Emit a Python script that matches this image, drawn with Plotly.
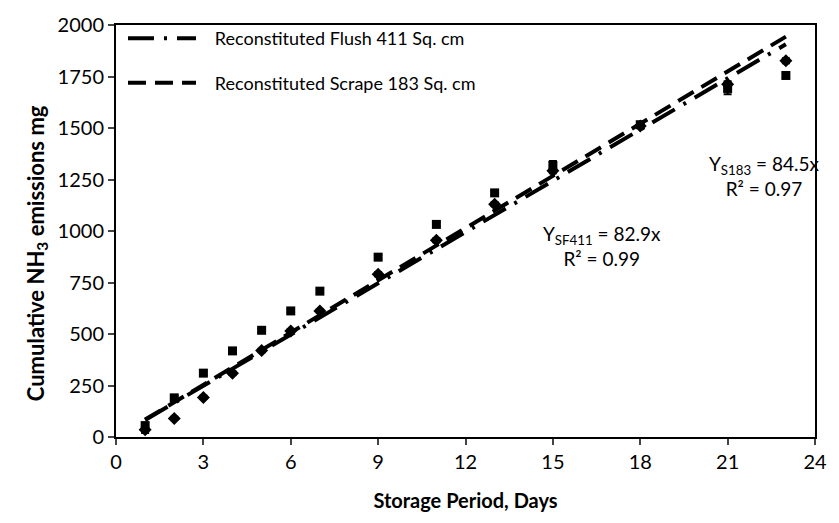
import plotly.graph_objects as go

# ---- data ----
days = [1, 2, 3, 4, 5, 6, 7, 9, 11, 13, 15, 18, 21, 23]
scrape_vals = [55, 190, 310, 418, 518, 612, 708, 873, 1032, 1185, 1318, 1516, 1692, 1755]
scrape_err = [15, 10, 10, 10, 8, 8, 8, 10, 10, 10, 22, 10, 28, 12]
flush_vals = [35, 90, 192, 310, 420, 515, 612, 790, 955, 1130, 1292, 1510, 1712, 1826]
flush_err = [15, 8, 8, 8, 8, 8, 8, 10, 10, 10, 12, 10, 15, 12]

trend_x = [1, 23]
slope_flush = 82.9
slope_scrape = 84.5

series_names = ["Reconstituted Flush 411 Sq. cm", "Reconstituted Scrape 183 Sq. cm"]

x_ticks = [0, 3, 6, 9, 12, 15, 18, 21, 24]
y_ticks = [0, 250, 500, 750, 1000, 1250, 1500, 1750, 2000]

FONT = "Lato, 'Open Sans', sans-serif"
PAD = "\u00a0\u00a0\u00a0"

fig = go.Figure()

# markers (not in legend)
fig.add_trace(go.Scatter(
    x=days, y=scrape_vals, mode="markers",
    marker=dict(symbol="square", size=9, color="black"),
    error_y=dict(type="data", array=scrape_err, color="black", thickness=2, width=4),
    showlegend=False, hoverinfo="skip"))
fig.add_trace(go.Scatter(
    x=days, y=flush_vals, mode="markers",
    marker=dict(symbol="diamond", size=10, color="black"),
    error_y=dict(type="data", array=flush_err, color="black", thickness=2, width=4),
    showlegend=False, hoverinfo="skip"))

# trendlines
fig.add_trace(go.Scatter(
    x=trend_x, y=[slope_flush * v for v in trend_x], mode="lines",
    line=dict(color="black", width=4, dash="26px,10px,3px,10px"),
    name=PAD + series_names[0], legendgroup="a"))
fig.add_trace(go.Scatter(
    x=trend_x, y=[slope_scrape * v for v in trend_x], mode="lines",
    line=dict(color="black", width=4, dash="18px,9px"),
    name=PAD + series_names[1], legendgroup="b"))

fig.add_annotation(x=16.7, y=928, xref="x", yref="y",
                   text="Y<sub>SF411</sub> = 82.9x<br>R² = 0.99",
                   showarrow=False, align="center",
                   font=dict(family=FONT, size=19, color="black"))
fig.add_annotation(x=22.27, y=1267, xref="x", yref="y",
                   text="Y<sub>S183</sub> = 84.5x<br>R² = 0.97",
                   showarrow=False, align="center",
                   font=dict(family=FONT, size=19, color="black"))

# y-axis title (placed as annotation to match reference position)
fig.add_annotation(x=-0.138, y=0.445, xref="paper", yref="paper",
                   text="<b>Cumulative NH<sub>3</sub> emissions mg</b>",
                   textangle=-90, showarrow=False,
                   font=dict(family=FONT, size=22, color="black"))

fig.update_layout(
    width=839, height=523,
    margin=dict(l=116, r=13, t=17, b=86),
    paper_bgcolor="white", plot_bgcolor="white",
    font=dict(family=FONT, size=19, color="black"),
    showlegend=True,
    legend=dict(x=0.01, y=1.012, xanchor="left", yanchor="top",
                bgcolor="rgba(0,0,0,0)", font=dict(size=18),
                tracegroupgap=18, itemwidth=68),
    xaxis=dict(range=[0, 24], tickvals=x_ticks, ticks="outside", ticklen=6,
               tickwidth=1.5, showline=True, linecolor="black", linewidth=2,
               mirror=True, showgrid=False, zeroline=False,
               tickfont=dict(size=20),
               title=dict(text="<b>Storage Period, Days</b>", font=dict(size=20), standoff=22)),
    yaxis=dict(range=[0, 2000], tickvals=y_ticks, ticks="outside", ticklen=6,
               tickwidth=1.5, showline=True, linecolor="black", linewidth=2,
               mirror=True, showgrid=False, zeroline=False,
               tickfont=dict(size=20)),
)

fig.write_html("out.html")
